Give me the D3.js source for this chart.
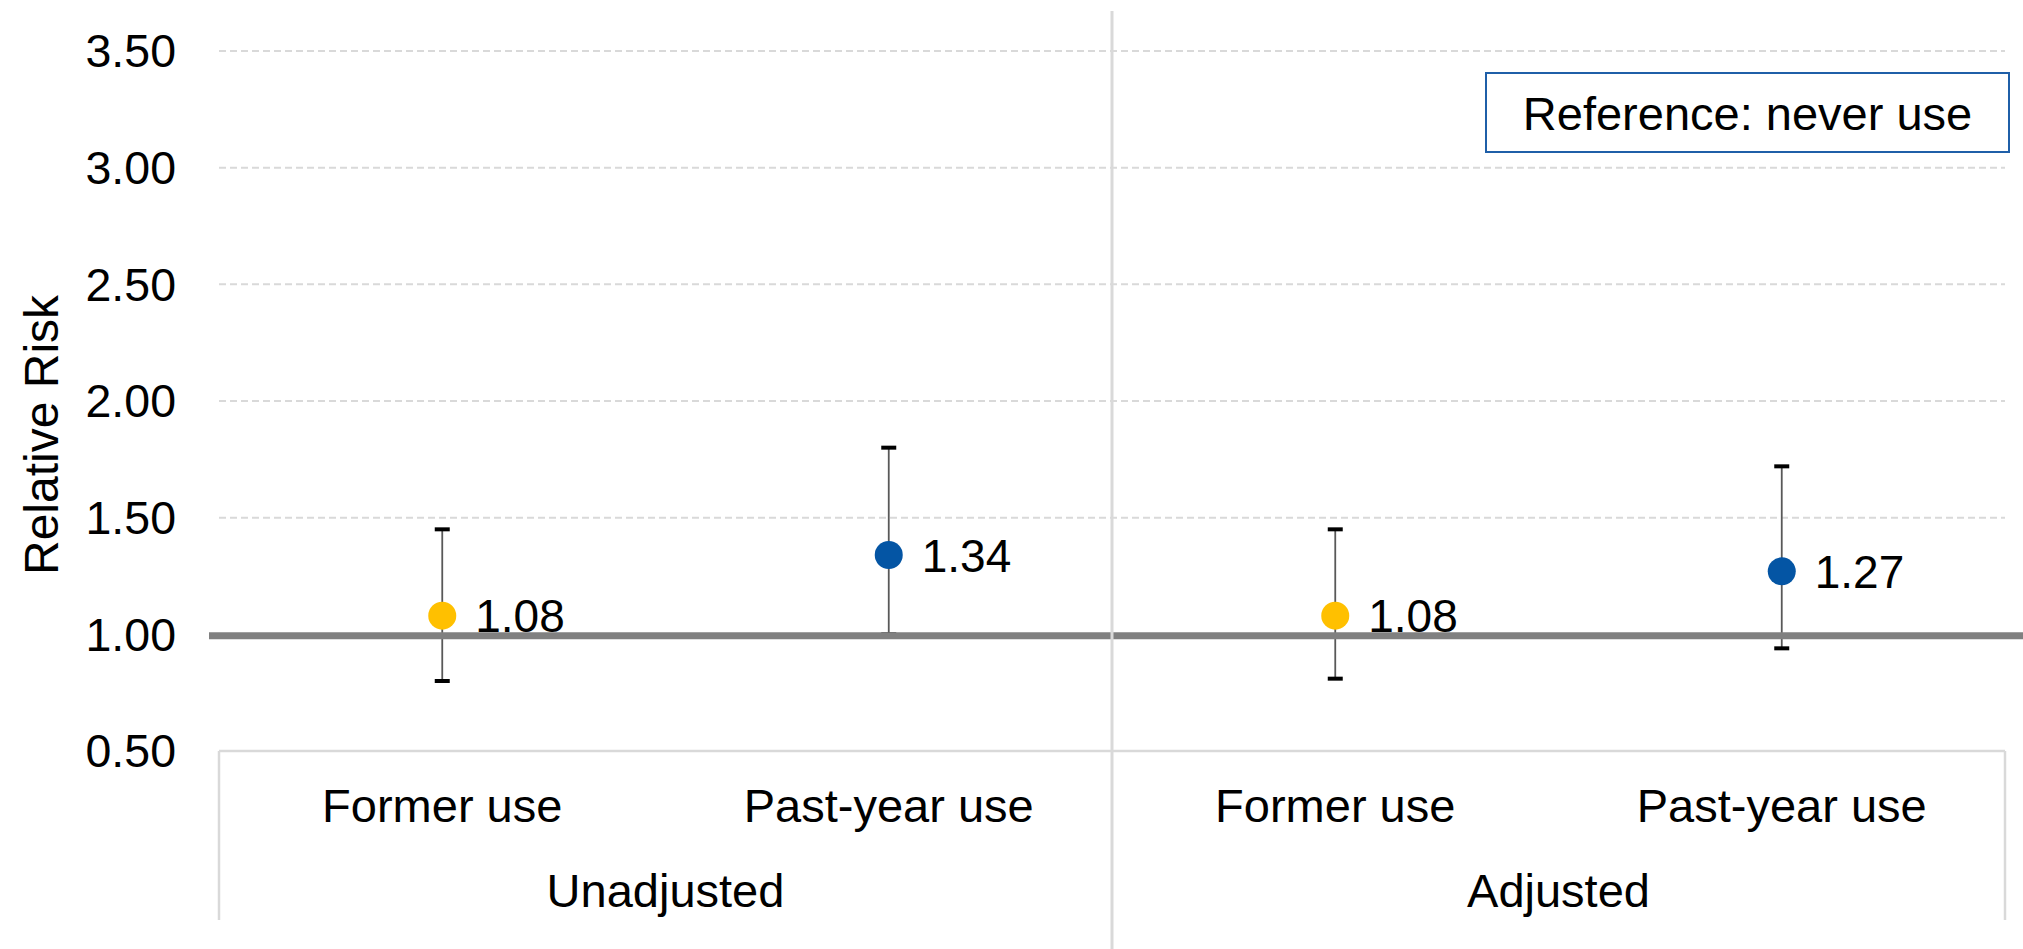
<!DOCTYPE html>
<html>
<head>
<meta charset="utf-8">
<script src="https://cdn.jsdelivr.net/npm/d3@7"></script>
<style>
  html, body { margin: 0; padding: 0; background: #ffffff; }
  svg { display: block; font-family: "Liberation Sans", Arial, Helvetica, sans-serif; }
</style>
</head>
<body>
<script>
// Relative risk estimates with 95% confidence intervals, reference group: never use
const groups = ["Unadjusted", "Adjusted"];
const categories = ["Former use", "Past-year use"];
const riskValues = [1.08, 1.34, 1.08, 1.27];
const lowerCI = [0.80, 1.00, 0.81, 0.94];
const upperCI = [1.45, 1.80, 1.45, 1.72];
const pointColors = ["#FFC000", "#0455A4"];
const yTicks = [0.5, 1.0, 1.5, 2.0, 2.5, 3.0, 3.5];
const referenceValue = 1.0;
const legendText = "Reference: never use";
const yTitle = "Relative Risk";

const W = 2023, H = 949;
const plot = { left: 219, right: 2005, top: 51, bottom: 751 };

const rows = [];
groups.forEach((g, gi) => categories.forEach((c, ci) => {
  const i = gi * categories.length + ci;
  rows.push({ key: g + "|" + c, group: g, cat: c, ci, rr: riskValues[i], lo: lowerCI[i], hi: upperCI[i] });
}));

const svg = d3.select("body").append("svg").attr("width", W).attr("height", H);

const y = d3.scaleLinear().domain([0.5, 3.5]).range([plot.bottom, plot.top]);
const x = d3.scaleBand().domain(rows.map(d => d.key)).range([plot.left, plot.right]);
const xg = d3.scaleBand().domain(groups).range([plot.left, plot.right]);

// dashed horizontal gridlines
svg.append("g")
  .selectAll("line")
  .data(yTicks.filter(t => t > 0.5 && t !== referenceValue))
  .join("line")
  .attr("x1", plot.left).attr("x2", plot.right)
  .attr("y1", d => y(d)).attr("y2", d => y(d))
  .attr("stroke", "#d9d9d9").attr("stroke-width", 2)
  .attr("stroke-dasharray", "7,4");

// y axis tick labels
const yAxis = d3.axisLeft(y).tickValues(yTicks).tickFormat(d3.format(".2f")).tickSize(0).tickPadding(0);
const ya = svg.append("g").attr("transform", `translate(176,0)`).call(yAxis);
ya.select(".domain").remove();
ya.selectAll("text")
  .attr("font-size", 46.5).attr("fill", "#000").attr("dy", "0.34em")
  .style("font-family", "'Liberation Sans', Arial, sans-serif");

// y axis title
svg.append("text")
  .attr("transform", `translate(58,${435}) rotate(-90)`)
  .attr("text-anchor", "middle")
  .attr("font-size", 48)
  .attr("fill", "#000")
  .text(yTitle);

// category axis frame
const frame = svg.append("g").attr("stroke", "#d9d9d9").attr("stroke-width", 2.5);
frame.append("line").attr("x1", plot.left).attr("x2", plot.right).attr("y1", plot.bottom).attr("y2", plot.bottom);
frame.append("line").attr("x1", plot.left).attr("x2", plot.left).attr("y1", plot.bottom).attr("y2", 920);
frame.append("line").attr("x1", plot.right).attr("x2", plot.right).attr("y1", plot.bottom).attr("y2", 920);

// category labels
svg.append("g").selectAll("text").data(rows).join("text")
  .attr("x", d => x(d.key) + x.bandwidth() / 2)
  .attr("y", 822)
  .attr("text-anchor", "middle")
  .attr("font-size", 47)
  .attr("fill", "#000")
  .text(d => d.cat);

// group labels
svg.append("g").selectAll("text").data(groups).join("text")
  .attr("x", d => xg(d) + xg.bandwidth() / 2)
  .attr("y", 907)
  .attr("text-anchor", "middle")
  .attr("font-size", 47)
  .attr("fill", "#000")
  .text(d => d);

// confidence interval whiskers
const cx = d => x(d.key) + x.bandwidth() / 2;
const eb = svg.append("g");
eb.selectAll("line.stem").data(rows).join("line").attr("class", "stem")
  .attr("x1", cx).attr("x2", cx)
  .attr("y1", d => y(d.hi)).attr("y2", d => y(d.lo))
  .attr("stroke", "#595959").attr("stroke-width", 1.8);
["hi", "lo"].forEach(k => {
  eb.selectAll("line.cap-" + k).data(rows).join("line").attr("class", "cap-" + k)
    .attr("x1", d => cx(d) - 7.5).attr("x2", d => cx(d) + 7.5)
    .attr("y1", d => y(d[k])).attr("y2", d => y(d[k]))
    .attr("stroke", "#000").attr("stroke-width", 4);
});

// point estimates
svg.append("g").selectAll("circle").data(rows).join("circle")
  .attr("cx", cx).attr("cy", d => y(d.rr)).attr("r", 14)
  .attr("fill", d => pointColors[d.ci]);

// value labels
svg.append("g").selectAll("text").data(rows).join("text")
  .attr("x", d => cx(d) + 33)
  .attr("y", d => y(d.rr))
  .attr("dy", "0.36em")
  .attr("font-size", 46)
  .attr("fill", "#000")
  .text(d => d3.format(".2f")(d.rr));

// reference line at RR = 1
svg.append("line")
  .attr("x1", 209).attr("x2", W)
  .attr("y1", y(referenceValue) + 1.3).attr("y2", y(referenceValue) + 1.3)
  .attr("stroke", "#808080").attr("stroke-width", 7);

// divider between unadjusted and adjusted panels
svg.append("line")
  .attr("x1", xg("Adjusted")).attr("x2", xg("Adjusted"))
  .attr("y1", 11).attr("y2", H)
  .attr("stroke", "#d9d9d9").attr("stroke-width", 3);

// reference group note
const lg = svg.append("g");
lg.append("rect")
  .attr("x", 1486).attr("y", 73).attr("width", 523).attr("height", 79)
  .attr("fill", "#fff").attr("stroke", "#1F5FA8").attr("stroke-width", 2);
lg.append("text")
  .attr("x", 1486 + 523 / 2).attr("y", 113).attr("dy", "0.36em")
  .attr("text-anchor", "middle").attr("font-size", 47).attr("fill", "#000")
  .text(legendText);
</script>
</body>
</html>
